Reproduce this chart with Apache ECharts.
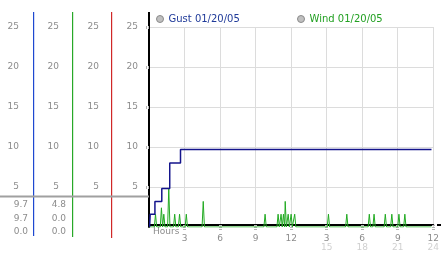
<!DOCTYPE html>
<html><head><meta charset="utf-8">
<script src="https://cdn.jsdelivr.net/npm/echarts@6/dist/echarts.min.js"></script>
<style>html,body{margin:0;padding:0;background:#fff}#c{width:442px;height:253px}</style>
</head><body><div id="c"></div>
<script>
// ---- data ----
const gustName = 'Gust 01/20/05';
const windName = 'Wind 01/20/05';
const gustTimes  = [0.05, 0.1, 0.5, 1.08, 1.75, 2.66, 23.85];
const gustValues = [0,    1.6, 3.2, 4.8,  8.0,  9.7,  9.7];
const windTimes  = [0.55, 1.05, 1.25, 1.67, 2.17, 2.58, 3.15, 4.58, 9.8, 10.9, 11.15, 11.35, 11.5, 11.75, 12.0, 12.3, 15.15, 16.7, 18.6, 19.0, 19.95, 20.5, 21.1, 21.6];
const windValues = [1.6,  2.4,  1.6,  4.8,  1.6,  1.6,  1.6,  3.2,  1.6, 1.6,  1.6,   1.6,   3.2,  1.6,   1.6,  1.6,  1.6,   1.6,  1.6,  1.6,  1.6,   1.6,  1.6,  1.6];
const windStart = 0, windEnd = 23.85, spikeHalf = 0.1;
const yTicks = [5, 10, 15, 20, 25];
const xTicks = [3, 6, 9, 12, 15, 18, 21, 24];

// ---- build series data ----
const gustData = gustTimes.map((t, i) => [t, gustValues[i]]);
const windData = [[windStart, 0]];
windTimes.forEach((t, i) => {
  windData.push([t - spikeHalf, 0], [t, windValues[i]], [t + spikeHalf, 0]);
});
windData.push([windEnd, 0]);

const stats = vals => [Math.max(...vals), vals[vals.length - 1], Math.min(...vals)].map(v => v.toFixed(1));
const gustStats = stats(gustValues);
const windStats = stats([0, ...windValues, 0]);

const FONT = 'DejaVu Sans';
const labelGray = '#8c8c8c';

function yAx(offset, main) {
  return {
    type: 'value', position: 'left', min: 0, max: 25, interval: 5, offset: offset,
    axisLine: { show: main, lineStyle: { color: '#000', width: 2 } },
    axisTick: main ? { show: true, inside: false, length: 3, customValues: yTicks,
      lineStyle: { color: '#b4b4b4', width: 3, type: [1, 1] } } : { show: false },
    axisLabel: { customValues: yTicks, color: labelGray, fontSize: 9, fontFamily: FONT, margin: 11 },
    splitLine: { show: main, lineStyle: { color: '#dcdcdc', width: 1 } }
  };
}

const chart = echarts.init(document.getElementById('c'), null, { renderer: 'canvas' });
const rowsY = [205, 218.5, 232];
const tableText = [];
rowsY.forEach((y, i) => {
  tableText.push({ type: 'text', x: 28, y: y, style: { text: gustStats[i], fill: labelGray, font: '9px ' + FONT, textAlign: 'right', textVerticalAlign: 'middle' } });
  tableText.push({ type: 'text', x: 66, y: y, style: { text: windStats[i], fill: labelGray, font: '9px ' + FONT, textAlign: 'right', textVerticalAlign: 'middle' } });
});

chart.setOption({
  animation: false,
  textStyle: { fontFamily: FONT },
  grid: { left: 149, top: 27, width: 289, height: 200 },
  legend: [
    { left: 156, top: 14, padding: 0, itemWidth: 7, itemHeight: 7, selectedMode: false,
      textStyle: { fontSize: 10, fontFamily: FONT },
      data: [{ name: gustName, icon: 'circle', itemStyle: { color: '#c0c0c0', borderColor: '#8a8a8a', borderWidth: 1 }, textStyle: { color: '#1f3a99' } }] },
    { left: 297, top: 14, padding: 0, itemWidth: 7, itemHeight: 7, selectedMode: false,
      textStyle: { fontSize: 10, fontFamily: FONT },
      data: [{ name: windName, icon: 'circle', itemStyle: { color: '#c0c0c0', borderColor: '#8a8a8a', borderWidth: 1 }, textStyle: { color: '#22a022' } }] }
  ],
  xAxis: {
    type: 'value', min: 0, max: 24, interval: 3, offset: -2,
    axisLine: { show: true, lineStyle: { color: '#000', width: 2 } },
    axisTick: { show: true, length: 6, customValues: xTicks, lineStyle: { color: '#b4b4b4', width: 3, type: [1, 1] } },
    axisLabel: {
      customValues: xTicks, margin: 9,
      formatter: v => v > 12 ? '{a|' + (v - 12) + '}\n{b|' + v + '}' : '{a|' + v + '}',
      rich: {
        a: { color: labelGray, fontSize: 9, lineHeight: 9, fontFamily: FONT },
        b: { color: '#d0d0d0', fontSize: 9, lineHeight: 9, fontFamily: FONT }
      }
    },
    splitLine: { show: true, lineStyle: { color: '#dcdcdc', width: 1 } }
  },
  yAxis: [yAx(0, true), yAx(39, false), yAx(79, false), yAx(119, false)],
  series: [
    { name: gustName, type: 'line', step: 'end', data: gustData, showSymbol: false, z: 4,
      lineStyle: { color: '#14148c', width: 1.5 }, itemStyle: { color: '#14148c' } },
    { name: windName, type: 'line', data: windData, showSymbol: false, z: 3,
      lineStyle: { color: '#22aa22', width: 1 }, itemStyle: { color: '#22aa22' } }
  ],
  graphic: [
    { type: 'rect', shape: { x: 33, y: 12, width: 1.2, height: 224 }, style: { fill: '#1e48d0' }, z: 20 },
    { type: 'rect', shape: { x: 72, y: 12, width: 1.2, height: 225 }, style: { fill: '#28a828' }, z: 20 },
    { type: 'rect', shape: { x: 111, y: 12, width: 1.2, height: 226 }, style: { fill: '#d02828' }, z: 20 },
    { type: 'line', shape: { x1: 149, y1: 12, x2: 149, y2: 28 }, style: { stroke: '#000', lineWidth: 2 } },
    { type: 'line', shape: { x1: 437, y1: 225, x2: 441, y2: 225 }, style: { stroke: '#000', lineWidth: 2 } },
    { type: 'line', shape: { x1: 0, y1: 196.5, x2: 149, y2: 196.5 }, style: { stroke: '#a0a0a0', lineWidth: 2 }, z: 30 },
    { type: 'text', x: 153, y: 231.5, style: { text: 'Hours', fill: labelGray, font: '9px ' + FONT, textVerticalAlign: 'middle' } },
    ...tableText
  ]
});
</script></body></html>
